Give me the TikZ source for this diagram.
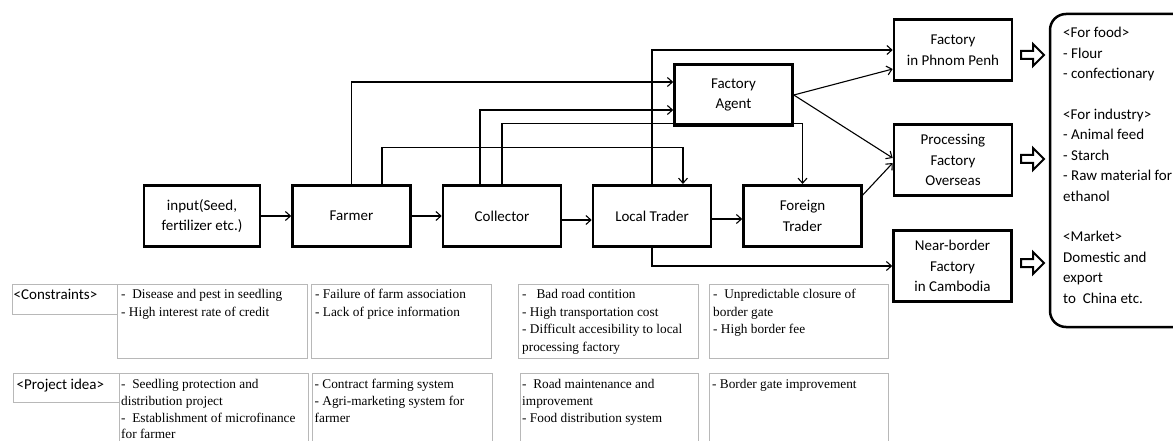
\documentclass[tikz,border=0pt]{standalone}
\usepackage{fontspec}
\setmainfont{Carlito}
\newfontfamily\notefont{Liberation Serif}
\usetikzlibrary{arrows.meta}

\begin{document}
\begin{tikzpicture}[x=1pt,y=-1pt,
  stage/.style={draw, line width=2.6pt, minimum width=118pt, minimum height=61.5pt,
    align=center, inner sep=0pt, font=\fontsize{15}{20.5}\selectfont},
  tallstage/.style={stage, minimum height=71.5pt},
  conn/.style={line width=1.1pt, -{Straight Barb[length=5pt,width=9pt]}},
  notebox/.style={draw=black!28, line width=0.8pt, anchor=north west, inner sep=0pt},
  notetext/.style={anchor=base west, inner sep=0pt, font=\notefont\fontsize{13.3}{17.5}\selectfont},
  ideatext/.style={notetext, font=\notefont\fontsize{13.3}{16.8}\selectfont},
  headtext/.style={anchor=base west, inner sep=0pt, font=\fontsize{15}{18}\selectfont},
  hollow/.style={draw, line width=2pt, fill=white, line join=miter},
  usebox/.style={draw, line width=2.5pt, rounded corners=16pt}]

\useasboundingbox (0,0) rectangle (1173,441);

% supply chain stages
\node[stage, minimum width=116pt] (input) at (202,216) {input(Seed,\\fertilizer etc.)};
\node[stage] (farmer)    at (351.5,216) {Farmer};
\node[stage] (collector) at (502,216)   {Collector};
\node[stage] (local)     at (652,216)   {Local Trader};
\node[stage] (foreign)   at (802.5,216) {Foreign\\Trader};
\node[stage] (agent)     at (733.5,95)  {Factory\\Agent};
\node[stage] (pp)        at (953,50)    {Factory\\in Phnom Penh};
\node[tallstage] (proc)  at (953,160)   {Processing\\Factory\\Overseas};
\node[tallstage] (nb)    at (952.5,266) {Near-border\\Factory\\in Cambodia};

% flows between stages
\draw[conn] (input.east) -- (farmer.west);
\draw[conn] (farmer.east) -- (collector.west);
\draw[conn] ([yshift=-4pt]collector.east) -- ([yshift=-4pt]local.west);
\draw[conn] ([yshift=-3pt]local.east) -- ([yshift=-3pt]foreign.west);
\draw[conn] (farmer.north) |- ([yshift=13pt]agent.west);
\draw[conn] ([xshift=30.5pt]farmer.north) -- ++(0,-36) -| ([xshift=31pt]local.north);
\draw[conn] ([xshift=-22pt]collector.north) |- ([yshift=-15pt]agent.west);
\draw[conn] (collector.north) -- ++(0,-60) -| (foreign.north);
\draw[conn] (local.north) |- (pp.west);
\draw[conn] (local.south) |- (nb.west);
\draw[conn] (agent.east) -- ([yshift=-19pt]pp.west);
\draw[conn] (agent.east) -- ([yshift=2pt]proc.west);
\draw[conn] ([yshift=-11pt]foreign.north east) -- ([yshift=-3pt]proc.west);

% block arrows to the uses
\foreach \yc in {55,159,263}
  \draw[hollow] (1021,\yc-4) -- (1033,\yc-4) -- (1033,\yc-11) -- (1044,\yc)
    -- (1033,\yc+11) -- (1033,\yc+4) -- (1021,\yc+4) -- cycle;

% uses and markets
\draw[usebox] (1190,14) -| (1050,327) -| (1190,14);
\node[anchor=base west, inner sep=0pt, font=\fontsize{15}{20.4}\selectfont] (uses) at (1063,38)
  {\begin{tabular}[t]{@{}l@{}}
   <For food>\\ - Flour\\ - confectionary\\ \\
   <For industry>\\ - Animal feed\\ - Starch\\ - Raw material for\\ ethanol\\ \\
   <Market>\\ Domestic and\\ export\\ to~ China etc.
   \end{tabular}};

% constraints row
\node[notebox, minimum width=105pt, minimum height=30pt] (hc) at (12,284) {};
\node[headtext] (hct) at (13.5,299) {<Constraints>};
\node[notebox, minimum width=190pt, minimum height=74pt] (c1) at (117,284) {};
\node[notebox, minimum width=180pt, minimum height=74pt] (c2) at (311,284) {};
\node[notebox, minimum width=180pt, minimum height=74pt] (c3) at (518,284) {};
\node[notebox, minimum width=179pt, minimum height=74pt] (c4) at (709,284) {};

\node[notetext] (c1t) at ([shift={(4,14.5)}]c1.north west)
  {\begin{tabular}[t]{@{}l@{}}-~ Disease and pest in seedling\\- High interest rate of credit\end{tabular}};
\node[notetext] (c2t) at ([shift={(4,14.5)}]c2.north west)
  {\begin{tabular}[t]{@{}l@{}}- Failure of farm association\\- Lack of price information\end{tabular}};
\node[notetext] (c3t) at ([shift={(4,14.5)}]c3.north west)
  {\begin{tabular}[t]{@{}l@{}}-~~ Bad road contition\\- High transportation cost\\- Difficult accesibility to local\\processing factory\end{tabular}};
\node[notetext] (c4t) at ([shift={(4,14.5)}]c4.north west)
  {\begin{tabular}[t]{@{}l@{}}-~ Unpredictable closure of\\border gate\\- High border fee\end{tabular}};

% project idea row
\node[notebox, minimum width=106pt, minimum height=29pt] (hp) at (13,373) {};
\node[headtext] (hpt) at (16.5,389.5) {<Project idea>};
\node[notebox, minimum width=189pt, minimum height=80pt] (p1) at (119,373) {};
\node[notebox, minimum width=180pt, minimum height=80pt] (p2) at (311.5,373) {};
\node[notebox, minimum width=178pt, minimum height=80pt] (p3) at (520,373) {};
\node[notebox, minimum width=179pt, minimum height=80pt] (p4) at (709,373) {};

\node[ideatext] (p1t) at ([shift={(2,15.5)}]p1.north west)
  {\begin{tabular}[t]{@{}l@{}}-~ Seedling protection and\\distribution project\\-~ Establishment of microfinance\\for farmer\end{tabular}};
\node[ideatext] (p2t) at ([shift={(3,15.5)}]p2.north west)
  {\begin{tabular}[t]{@{}l@{}}- Contract farming system\\- Agri-marketing system for\\farmer\end{tabular}};
\node[ideatext] (p3t) at ([shift={(2,15.5)}]p3.north west)
  {\begin{tabular}[t]{@{}l@{}}-~ Road maintenance and\\improvement\\- Food distribution system\end{tabular}};
\node[ideatext] (p4t) at ([shift={(3,15.5)}]p4.north west)
  {\begin{tabular}[t]{@{}l@{}}- Border gate improvement\end{tabular}};

\end{tikzpicture}
\end{document}
